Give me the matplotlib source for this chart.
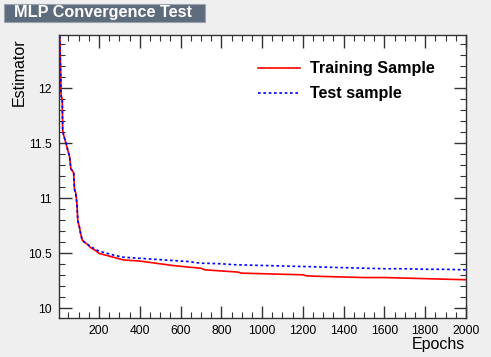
import matplotlib
matplotlib.use("Agg")
import matplotlib.pyplot as plt
from matplotlib.ticker import MultipleLocator
from matplotlib.patches import Rectangle

plt.rcParams['font.family'] = ['Liberation Sans', 'DejaVu Sans']

epochs = [4, 8, 10, 12, 14, 16, 20, 22, 26, 32, 40, 48, 56, 62, 70, 76, 80, 86, 92, 96,
          104, 110, 118, 130, 145, 160, 180, 200, 240, 280, 320, 400, 480, 560, 640, 700,
          720, 800, 880, 900, 1000, 1100, 1200, 1220, 1300, 1400, 1500, 1600, 1700, 1800,
          1900, 2000]
train = [12.9, 12.5, 12.3, 12.15, 11.95, 11.92, 11.90, 11.62, 11.58, 11.54, 11.49, 11.43,
         11.38, 11.27, 11.25, 11.23, 11.08, 11.05, 10.95, 10.80, 10.74, 10.68, 10.62, 10.60,
         10.58, 10.55, 10.53, 10.50, 10.48, 10.46, 10.44, 10.43, 10.41, 10.39, 10.375, 10.365,
         10.35, 10.34, 10.33, 10.32, 10.315, 10.31, 10.305, 10.295, 10.29, 10.285, 10.28,
         10.28, 10.275, 10.27, 10.265, 10.26]
test = [12.9, 12.5, 12.3, 12.15, 11.95, 11.92, 11.90, 11.62, 11.58, 11.54, 11.49, 11.43,
        11.38, 11.27, 11.25, 11.23, 11.08, 11.05, 10.95, 10.80, 10.74, 10.68, 10.62, 10.60,
        10.58, 10.56, 10.54, 10.52, 10.50, 10.48, 10.465, 10.455, 10.445, 10.435, 10.425,
        10.41, 10.41, 10.405, 10.395, 10.395, 10.39, 10.385, 10.38, 10.38, 10.375, 10.37,
        10.365, 10.36, 10.36, 10.355, 10.355, 10.35]

W, H = 491, 357
bg = '#efefef'
fig = plt.figure(figsize=(W / 100, H / 100), dpi=100, facecolor=bg)
ax = fig.add_axes([59 / W, 1 - 317.7 / H, (466 - 59) / W, (317.7 - 35) / H])
ax.set_facecolor('white')

ax.plot(epochs, train, color='#ff0000', lw=1.2, label='Training Sample')
ax.plot(epochs, test, color='#0000ff', lw=1.2, ls=(0, (1.6, 1.6)), label='Test sample')

ax.set_xlim(4, 2000)
ax.set_ylim(9.915, 12.485)
ax.xaxis.set_minor_locator(MultipleLocator(50))
ax.yaxis.set_minor_locator(MultipleLocator(0.1))
ax.set_xticks([200, 400, 600, 800, 1000, 1200, 1400, 1600, 1800, 2000])
ax.set_yticks([10, 10.5, 11, 11.5, 12])
ax.set_yticklabels(['10', '10.5', '11', '11.5', '12'])
ax.tick_params(which='both', direction='in', top=True, right=True, labelsize=8.7,
               color='#333333')
ax.tick_params(which='major', length=9, width=1, pad=5)
ax.tick_params(which='minor', length=4.5, width=0.8)
for s in ax.spines.values():
    s.set_linewidth(1.0)
    s.set_color('#333333')

leg = ax.legend(loc='upper left', bbox_to_anchor=((252 - 59) / (466 - 59), 1 - (55 - 35) / (317.7 - 35)),
                frameon=False, prop={'weight': 'bold', 'size': 11.6},
                handlelength=2.55, handletextpad=0.62, labelspacing=0.62, borderaxespad=0)

# title box
fig.patches.append(Rectangle((4 / W, 1 - 22 / H), (205 - 4) / W, (22 - 4) / H,
                             transform=fig.transFigure, facecolor='#5d6b7d',
                             edgecolor='#9aa4b0', lw=0.8))
fig.text(14 / W, 1 - 13 / H, 'MLP Convergence Test', color='white', fontsize=11.7,
         fontweight='bold', va='center', ha='left')

fig.text(465 / W, 1 - 345 / H, 'Epochs', fontsize=11.5, ha='right', va='center')
fig.text(19 / W, 1 - 38 / H, 'Estimator', fontsize=11.5, ha='center', va='top', rotation=90)

fig.savefig('out.png', dpi=100, facecolor=bg)
